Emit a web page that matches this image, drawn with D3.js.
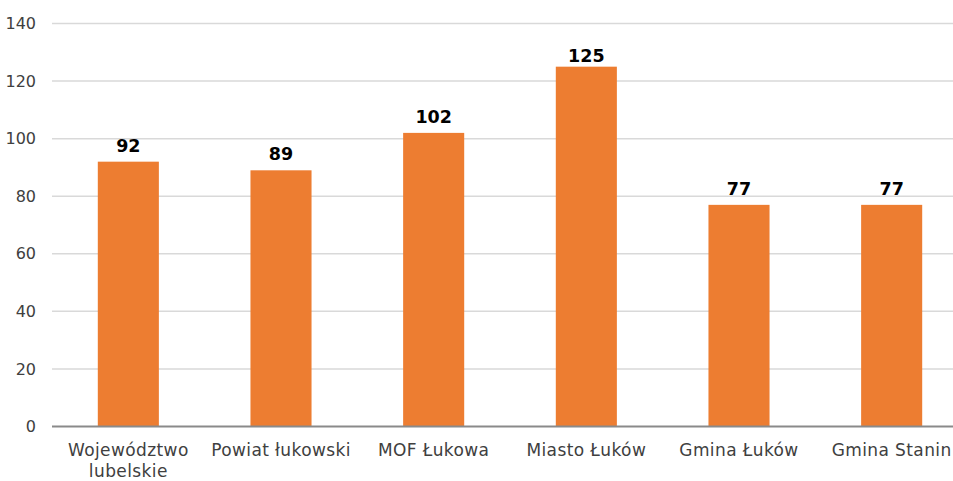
<!DOCTYPE html>
<html><head><meta charset="utf-8">
<script src="https://cdn.jsdelivr.net/npm/d3@7"></script>
<style>html,body{margin:0;padding:0;background:#fff;overflow:hidden}</style>
</head><body><div id="chart"></div>
<script>
const categories = ["Województwo lubelskie","Powiat łukowski","MOF Łukowa","Miasto Łuków","Gmina Łuków","Gmina Stanin"];
const values = [92, 89, 102, 125, 77, 77];
const yTicks = [0,20,40,60,80,100,120,140];

const W = 953, H = 481;
const svg = d3.select("#chart").append("svg").attr("width", W).attr("height", H);
const font = "'DejaVu Sans', sans-serif";

const x = d3.scaleBand().domain(categories).range([52, 968]).paddingInner(0.6).paddingOuter(0.3);
const y = d3.scaleLinear().domain([0,140]).range([426.5, 23.5]);

// gridlines
svg.append("g").selectAll("line").data(yTicks.filter(d=>d>0)).join("line")
  .attr("x1", 52).attr("x2", W).attr("y1", d=>y(d)).attr("y2", d=>y(d))
  .attr("stroke", "#d9d9d9").attr("stroke-width", 1.5);

// y axis labels
const yAxis = svg.append("g").attr("transform","translate(36,0)")
  .call(d3.axisLeft(y).tickValues(yTicks).tickSize(0).tickPadding(0));
yAxis.select(".domain").remove();
yAxis.selectAll("text").attr("font-family", font).attr("font-size", 16).attr("fill", "#404040");

// bars
svg.append("g").selectAll("rect").data(values).join("rect")
  .attr("x", (d,i)=>x(categories[i])).attr("width", x.bandwidth())
  .attr("y", d=>y(d)).attr("height", d=>y(0)-y(d)).attr("fill", "#ed7d31");

// baseline
svg.append("line").attr("x1",52).attr("x2",W).attr("y1",y(0)).attr("y2",y(0))
  .attr("stroke","#8a8a8a").attr("stroke-width",2);

// value labels
svg.append("g").selectAll("text").data(values).join("text")
  .attr("x", (d,i)=>x(categories[i]) + x.bandwidth()/2).attr("y", d=>Math.max(y(d)-10, 62))
  .attr("text-anchor","middle").attr("font-family", font).attr("font-weight","bold")
  .attr("font-size", 17.5).attr("fill","#000").text(d=>d);

// x labels
const xl = svg.append("g").selectAll("text").data(categories).join("text")
  .attr("x", d=>x(d)+x.bandwidth()/2).attr("y", 456)
  .attr("text-anchor","middle").attr("font-family", font).attr("font-size", 17)
  .attr("letter-spacing", 0.4).attr("fill","#404040");
xl.each(function(d){
  const t = d3.select(this);
  const lines = d === "Województwo lubelskie" ? ["Województwo","lubelskie"] : [d];
  lines.forEach((l,i)=>t.append("tspan").attr("x", x(d)+x.bandwidth()/2).attr("dy", i?21:0).text(l));
});
</script></body></html>
